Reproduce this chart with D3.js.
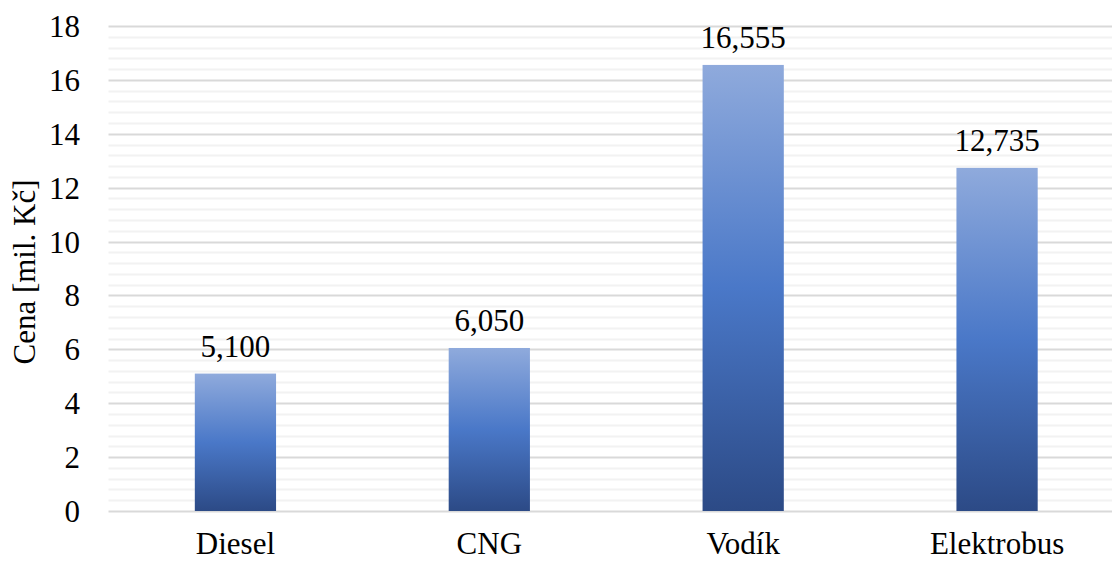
<!DOCTYPE html>
<html>
<head>
<meta charset="utf-8">
<script src="https://cdn.jsdelivr.net/npm/d3@7"></script>
<style>
  body { margin: 0; background: #fff; }
</style>
</head>
<body>
<div id="chart"></div>
<script>
// data
var categories = ["Diesel", "CNG", "Vodík", "Elektrobus"];
var values = [5.100, 6.050, 16.555, 12.735];
var valueLabels = ["5,100", "6,050", "16,555", "12,735"];
var majorTicks = [0, 2, 4, 6, 8, 10, 12, 14, 16, 18];

var W = 1112, H = 561;
var margin = {top: 26, right: -12, bottom: 50, left: 108.5};
var FONT = "Liberation Serif";
var FS = 31;

var svg = d3.select("#chart").append("svg")
    .attr("width", W)
    .attr("height", H)
    .attr("font-family", FONT)
    .attr("font-size", FS);

// bar gradient, light at top to dark at bottom
var grad = svg.append("defs").append("linearGradient")
    .attr("id", "barGrad")
    .attr("x1", 0).attr("y1", 0).attr("x2", 0).attr("y2", 1);
grad.append("stop").attr("offset", "0%").attr("stop-color", "#8faadc");
grad.append("stop").attr("offset", "50%").attr("stop-color", "#4a78c8");
grad.append("stop").attr("offset", "100%").attr("stop-color", "#2c4a86");

var x = d3.scaleBand()
    .domain(categories)
    .range([margin.left, W - margin.right])
    .paddingInner(0.68)
    .paddingOuter(0.34);

var y = d3.scaleLinear()
    .domain([0, 18])
    .range([H - margin.bottom, margin.top]);

// minor gridlines every 0.4
var minor = d3.range(0, 18.001, 0.4).filter(function(v) {
  return Math.abs(v / 2 - Math.round(v / 2)) > 1e-6;
});
svg.append("g").selectAll("line")
    .data(minor)
    .enter().append("line")
    .attr("x1", margin.left).attr("x2", W)
    .attr("y1", function(d) { return Math.round(y(d)) + 0.5; })
    .attr("y2", function(d) { return Math.round(y(d)) + 0.5; })
    .attr("stroke", "#f2f2f2")
    .attr("stroke-width", 2);

// major gridlines
svg.append("g").selectAll("line")
    .data(majorTicks)
    .enter().append("line")
    .attr("x1", margin.left).attr("x2", W)
    .attr("y1", function(d) { return Math.round(y(d)) + 0.5; })
    .attr("y2", function(d) { return Math.round(y(d)) + 0.5; })
    .attr("stroke", "#d9d9d9")
    .attr("stroke-width", 2);

// y axis labels
var yAxis = d3.axisLeft(y).tickValues(majorTicks).tickSize(0).tickPadding(0);
var yg = svg.append("g")
    .attr("transform", "translate(80,0)")
    .call(yAxis)
    .attr("font-family", FONT)
    .attr("font-size", FS);
yg.select(".domain").remove();
yg.selectAll("text")
    .attr("fill", "#000")
    .attr("dy", "0.34em");

// y axis title
svg.append("text")
    .attr("transform", "translate(35,272) rotate(-90)")
    .attr("text-anchor", "middle")
    .attr("fill", "#000")
    .text("Cena [mil. Kč]");

// bars
svg.append("g").selectAll("rect")
    .data(values)
    .enter().append("rect")
    .attr("x", function(d, i) { return x(categories[i]); })
    .attr("width", x.bandwidth())
    .attr("y", function(d) { return y(d); })
    .attr("height", function(d) { return y(0) - y(d); })
    .attr("fill", "url(#barGrad)");

// value labels
svg.append("g").selectAll("text")
    .data(values)
    .enter().append("text")
    .attr("x", function(d, i) { return x(categories[i]) + x.bandwidth() / 2; })
    .attr("y", function(d) { return y(d) - 17; })
    .attr("text-anchor", "middle")
    .attr("fill", "#000")
    .text(function(d, i) { return valueLabels[i]; });

// x axis labels
var xAxis = d3.axisBottom(x).tickSize(0).tickPadding(0);
var xg = svg.append("g")
    .attr("transform", "translate(0," + y(0) + ")")
    .call(xAxis)
    .attr("font-family", FONT)
    .attr("font-size", FS);
xg.select(".domain").remove();
xg.selectAll("text")
    .attr("fill", "#000")
    .attr("dy", null)
    .attr("y", 43);
</script>
</body>
</html>
